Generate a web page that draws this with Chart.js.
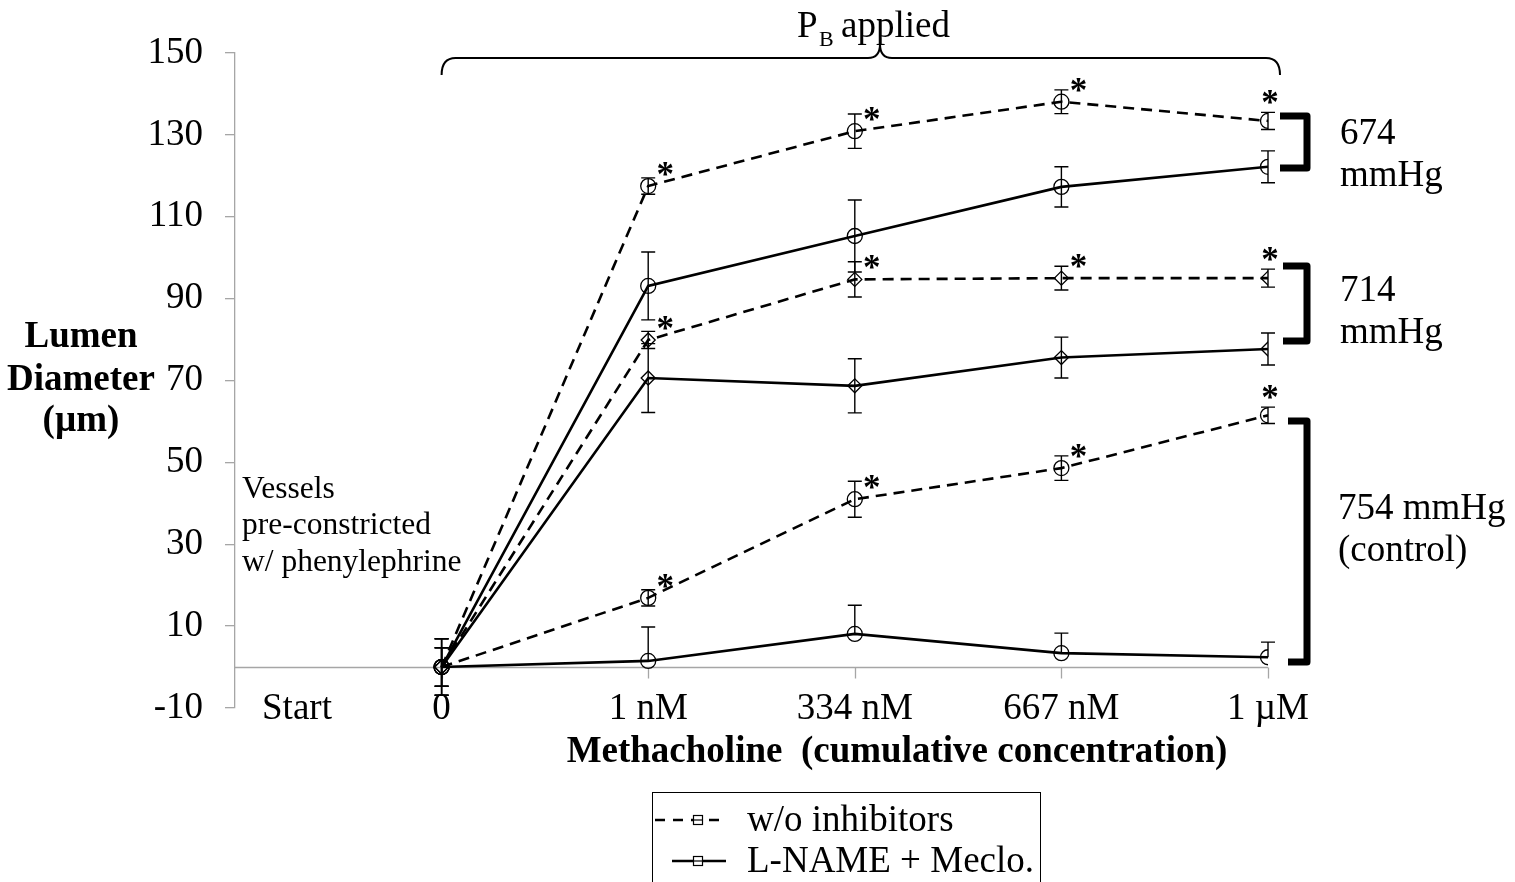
<!DOCTYPE html>
<html>
<head>
<meta charset="utf-8">
<script src="https://cdn.jsdelivr.net/npm/chart.js@4"></script>
<style>
  body { margin: 0; background: #fff; }
  #wrap { width: 1515px; height: 882px; position: relative; }
</style>
</head>
<body>
<div id="wrap"><canvas id="lumen-chart"></canvas></div>
<script>
// Tick labels / categories
const xTickLabels = ['Start', '0', '1 nM', '334 nM', '667 nM', '1 µM'];
const xTickPos = [-0.7, 0, 1, 2, 3, 4];
const concPos = [0, 1, 2, 3, 4];
const yTicks = [-10, 10, 30, 50, 70, 90, 110, 130, 150];

// 674 mmHg
const woInh674 = [0, 117.5, 130.9, 138.1, 133.4];
const woInh674Err = [4.7, 2.0, 4.2, 2.9, 2.1];
const lname674 = [0, 93.1, 105.3, 117.3, 122.2];
const lname674Err = [6.9, 8.3, 8.8, 4.9, 3.9];
// 714 mmHg
const woInh714 = [0, 79.9, 94.7, 95.0, 95.0];
const woInh714Err = [4.7, 2.1, 4.3, 2.9, 2.2];
const lname714 = [0, 70.6, 68.7, 75.6, 77.7];
const lname714Err = [6.9, 8.4, 6.6, 5.0, 3.9];
// 754 mmHg (control)
const woInh754 = [0, 16.9, 41.0, 48.6, 61.5];
const woInh754Err = [4.7, 2.0, 4.4, 3.0, 2.0];
const lname754 = [0, 1.5, 8.1, 3.4, 2.4];
const lname754Err = [6.9, 8.3, 7.0, 4.9, 3.7];

// significance flags (asterisks) for w/o inhibitors series
const sigWoInh = [false, true, true, true, true];

const legendLabels = ['w/o inhibitors', 'L-NAME + Meclo.'];

const SERIF = "'Liberation Serif', 'Times New Roman', serif";
const FS = 37;

function pts(vals) {
    return vals.map((v, i) => ({x: concPos[i], y: v}));
}

function makeSet(label, vals, errs, dashed, shape, sig, plusOnly) {
    return {
        label: label,
        data: pts(vals),
        errors: errs,
        sig: sig,
        plusOnly: plusOnly,
        borderColor: '#000',
        borderWidth: 2.6,
        borderDash: dashed ? [11, 7] : [],
        pointStyle: shape,
        pointRadius: shape === 'circle' ? 7.5 : 7,
        pointBorderWidth: 1.3,
        pointBorderColor: '#000',
        pointBackgroundColor: 'rgba(0,0,0,0)',
        tension: 0,
        fill: false
    };
}

const data = {
    datasets: [
        makeSet(legendLabels[0], woInh674, woInh674Err, true, 'circle', sigWoInh, false),
        makeSet(legendLabels[1], lname674, lname674Err, false, 'circle', null, false),
        makeSet(legendLabels[0], woInh714, woInh714Err, true, 'rectRot', sigWoInh, false),
        makeSet(legendLabels[1], lname714, lname714Err, false, 'rectRot', null, false),
        makeSet(legendLabels[0], woInh754, woInh754Err, true, 'circle', sigWoInh, false),
        makeSet(legendLabels[1], lname754, lname754Err, false, 'circle', null, true)
    ]
};

// zero line (x axis drawn at y = 0) + category labels
const zeroAxis = {
    id: 'zeroAxis',
    beforeDatasetsDraw(chart) {
        const {ctx, chartArea, scales: {x, y}} = chart;
        const y0 = Math.round(y.getPixelForValue(0)) + 0.5;
        ctx.save();
        ctx.strokeStyle = '#a6a6a6';
        ctx.lineWidth = 1.3;
        ctx.beginPath();
        ctx.moveTo(chartArea.left, y0);
        ctx.lineTo(x.getPixelForValue(4), y0);
        concPos.forEach(p => {
            const px = Math.round(x.getPixelForValue(p)) + 0.5;
            ctx.moveTo(px, y0);
            ctx.lineTo(px, y0 + 11);
        });
        ctx.stroke();

        ctx.fillStyle = '#000';
        ctx.font = FS + 'px ' + SERIF;
        ctx.textAlign = 'center';
        ctx.textBaseline = 'middle';
        const ly = y.getPixelForValue(-10) + 1;
        xTickPos.forEach((p, i) => {
            ctx.fillText(xTickLabels[i], x.getPixelForValue(p), ly);
        });
        ctx.restore();
    }
};

const annotations = {
    id: 'annotations',
    afterDatasetsDraw(chart) {
        const {ctx, scales: {x, y}} = chart;
        ctx.save();
        // error bars + asterisks
        chart.data.datasets.forEach((ds, di) => {
            const meta = chart.getDatasetMeta(di);
            meta.data.forEach((pt, i) => {
                const v = ds.data[i].y, e = ds.errors[i];
                const px = pt.x;
                const yt = y.getPixelForValue(v + e);
                const yb = (ds.plusOnly && i > 0) ? pt.y : y.getPixelForValue(v - e);
                ctx.strokeStyle = '#000';
                ctx.lineWidth = 1.4;
                ctx.setLineDash([]);
                ctx.beginPath();
                ctx.moveTo(px, yt); ctx.lineTo(px, yb);
                ctx.moveTo(px - 7, yt); ctx.lineTo(px + 7, yt);
                if (!(ds.plusOnly && i > 0)) {
                    ctx.moveTo(px - 7, yb); ctx.lineTo(px + 7, yb);
                }
                ctx.stroke();
                if (ds.sig && ds.sig[i]) {
                    ctx.fillStyle = '#000';
                    ctx.font = 'bold 35px ' + SERIF;
                    ctx.textAlign = 'center';
                    ctx.textBaseline = 'middle';
                    let ax, ay;
                    if (i === ds.data.length - 1) { ax = px + 2; ay = yt - 14; }
                    else { ax = px + 17; ay = pt.y - 16; }
                    ctx.fillText('*', ax, ay + 7);
                }
            });
        });

        // brace for "P_B applied"
        ctx.strokeStyle = '#000';
        ctx.lineWidth = 2;
        ctx.beginPath();
        const bl = x.getPixelForValue(0), br = 1280, bm = 880, bt = 58;
        ctx.moveTo(bl, 75);
        ctx.quadraticCurveTo(bl, bt, bl + 14, bt);
        ctx.lineTo(bm - 12, bt);
        ctx.quadraticCurveTo(bm, bt, bm, 44);
        ctx.quadraticCurveTo(bm, bt, bm + 12, bt);
        ctx.lineTo(br - 14, bt);
        ctx.quadraticCurveTo(br, bt, br, 75);
        ctx.stroke();

        // pressure brackets
        ctx.lineWidth = 7;
        ctx.lineJoin = 'round';
        [[1280, 116, 168], [1283, 266, 341], [1288, 421, 662]].forEach(b => {
            ctx.beginPath();
            ctx.moveTo(b[0], b[1]);
            ctx.lineTo(1307, b[1]);
            ctx.lineTo(1307, b[2]);
            ctx.lineTo(b[0], b[2]);
            ctx.stroke();
        });

        ctx.fillStyle = '#000';
        ctx.textBaseline = 'alphabetic';
        ctx.textAlign = 'left';
        ctx.font = FS + 'px ' + SERIF;
        ctx.fillText('674', 1340, 144);
        ctx.fillText('mmHg', 1340, 186);
        ctx.fillText('714', 1340, 301);
        ctx.fillText('mmHg', 1340, 343);
        ctx.fillText('754 mmHg', 1338, 519);
        ctx.fillText('(control)', 1338, 561);

        // P_B applied
        ctx.fillText('P', 797, 37);
        ctx.font = '22px ' + SERIF;
        ctx.fillText('B', 819, 46);
        ctx.font = FS + 'px ' + SERIF;
        ctx.fillText('applied', 841, 37);

        // note
        ctx.font = '31.5px ' + SERIF;
        ctx.textBaseline = 'middle';
        ctx.fillText('Vessels', 242, 490);
        ctx.fillText('pre-constricted', 242, 526);
        ctx.fillText('w/ phenylephrine', 242, 563);

        // axis titles
        ctx.font = 'bold ' + FS + 'px ' + SERIF;
        ctx.textAlign = 'center';
        ctx.fillText('Lumen', 81, 337);
        ctx.fillText('Diameter', 81, 380);
        ctx.fillText('(µm)', 81, 421);
        ctx.fillText('Methacholine  (cumulative concentration)', 897, 752);

        // legend
        ctx.lineWidth = 1;
        ctx.lineJoin = 'miter';
        ctx.strokeRect(652.5, 792.5, 388, 110);
        const rows = [{y: 820, dash: [10, 8], x0: 655}, {y: 861, dash: [], x0: 672}];
        rows.forEach((r, i) => {
            ctx.strokeStyle = '#000';
            ctx.lineWidth = 2.4;
            ctx.setLineDash(r.dash);
            ctx.beginPath();
            ctx.moveTo(r.x0, r.y); ctx.lineTo(726, r.y);
            ctx.stroke();
            ctx.setLineDash([]);
            ctx.lineWidth = 1.2;
            ctx.fillStyle = '#fff';
            ctx.fillRect(693, r.y - 5, 10, 10);
            ctx.strokeRect(693.5, r.y - 4.5, 9, 9);
            ctx.beginPath();
            ctx.moveTo(693, r.y); ctx.lineTo(703, r.y);
            ctx.stroke();
            ctx.fillStyle = '#000';
            ctx.font = FS + 'px ' + SERIF;
            ctx.textAlign = 'left';
            ctx.textBaseline = 'middle';
            ctx.fillText(legendLabels[i], 747, r.y + 1);
        });
        ctx.restore();
    }
};

const options = {
    responsive: true,
    maintainAspectRatio: false,
    animation: false,
    layout: { padding: { top: 53, right: 247, left: 0, bottom: 0 } },
    plugins: { legend: { display: false }, tooltip: { enabled: false } },
    scales: {
        x: {
            type: 'linear',
            min: -1,
            max: 4,
            afterFit(scale) { scale.height = 174; },
            afterBuildTicks(scale) { scale.ticks = xTickPos.map(v => ({value: v})); },
            grid: { display: false, drawTicks: false },
            border: { display: false },
            ticks: { display: false }
        },
        y: {
            min: -10,
            max: 150,
            afterFit(scale) { scale.width = 235; },
            afterBuildTicks(scale) { scale.ticks = yTicks.map(v => ({value: v})); },
            grid: { display: true, drawOnChartArea: false, drawTicks: true, tickLength: 10, color: '#a6a6a6', lineWidth: 1.3 },
            border: { display: true, color: '#a6a6a6', width: 1.3 },
            ticks: {
                padding: 22,
                color: '#000',
                font: { family: SERIF, size: FS }
            }
        }
    }
};

const ctx = document.getElementById('lumen-chart').getContext('2d');
const lumen_chart = new Chart(ctx, {
    type: 'line',
    data: data,
    options: options,
    plugins: [zeroAxis, annotations]
});
</script>
</body>
</html>
